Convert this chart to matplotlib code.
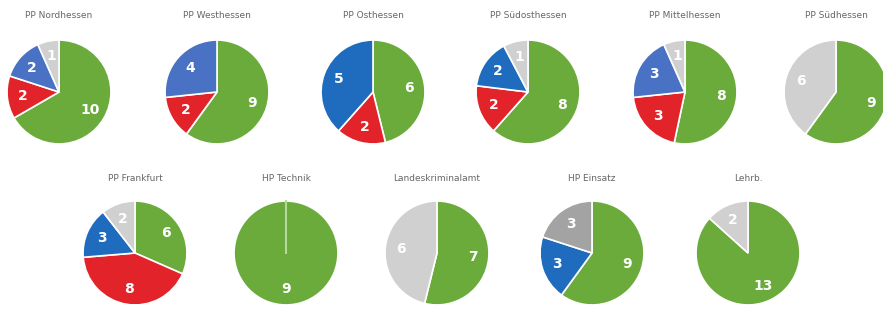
import matplotlib.pyplot as plt

# Beschäftigte je Behörde (grün, rot, blau, grau)
titles = ["PP Nordhessen", "PP Westhessen", "PP Osthessen", "PP Südosthessen",
          "PP Mittelhessen", "PP Südhessen", "PP Frankfurt", "HP Technik",
          "Landeskriminalamt", "HP Einsatz", "Lehrb."]
green = [10, 9, 6, 8, 8, 9, 6, 9, 7, 9, 13]
red = [2, 2, 2, 2, 3, 0, 8, 0, 0, 0, 0]
blue = [2, 4, 5, 2, 3, 0, 3, 0, 0, 3, 0]
gray = [1, 0, 0, 1, 1, 6, 2, 0, 6, 3, 2]

blues = ["#4a72c4", "#4a72c4", "#1f6cbf", "#1f6cbf", "#4a72c4", "#4a72c4",
         "#1f6cbf", "#1f6cbf", "#1f6cbf", "#1f6cbf", "#1f6cbf"]
grays = ["#d0d0d0"] * 9 + ["#a3a3a3", "#d0d0d0"]

W, H = 883, 311
fig = plt.figure(figsize=(W / 100, H / 100), dpi=100)

# pie centres in pixels
centers = [(59, 92), (217, 92), (373, 92), (528, 92), (685, 92), (836, 92),
           (135, 253), (286, 253), (437, 253), (592, 253), (748, 253)]
r = 53

for i, t in enumerate(titles):
    cx, cy = centers[i]
    ax = fig.add_axes([(cx - r) / W, 1 - (cy + r) / H, 2 * r / W, 2 * r / H])
    vals, cols = [], []
    for v, c in zip([green[i], red[i], blue[i], gray[i]],
                    ["#6aab3c", "#e3232a", blues[i], grays[i]]):
        if v > 0:
            vals.append(v)
            cols.append(c)
    ax.pie(vals, colors=cols, startangle=90, counterclock=False, radius=1,
           wedgeprops=dict(edgecolor="white", linewidth=1.2),
           autopct=lambda p, s=sum(vals): f"{round(p * s / 100):d}",
           pctdistance=0.7,
           textprops=dict(color="white", fontsize=10, fontweight="bold"))
    if len(vals) == 1:
        # full circle: keep the start edge Excel draws
        ax.plot([0, 0], [0, 1], color="#b5d99c", lw=1.5)
    ax.set_xlim(-1.02, 1.02)
    ax.set_ylim(-1.02, 1.02)
    ax.set_aspect("equal")
    ax.axis("off")
    ty = 15 if i < 6 else 178
    fig.text(cx / W, 1 - ty / H, t, ha="center", va="center",
             fontsize=6.5, color="#666666")

plt.savefig("out.png", dpi=100)
